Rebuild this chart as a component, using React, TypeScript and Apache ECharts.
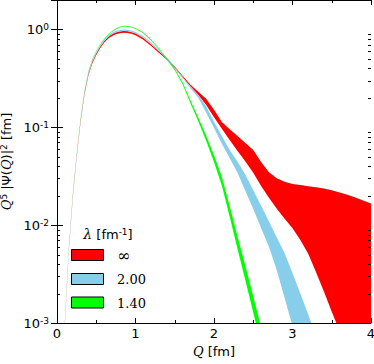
import React, { useEffect, useRef } from "react";
import * as echarts from "echarts";

// Momentum grid Q [fm^-1]
const Q = [0.08, 0.1, 0.15, 0.2, 0.25, 0.3, 0.35, 0.4, 0.45, 0.5, 0.55, 0.6, 0.65, 0.7, 0.75, 0.8, 0.85, 0.9, 0.95, 1.0,
  1.1, 1.2, 1.3, 1.4, 1.5, 1.6, 1.7, 1.8, 1.9, 2.0, 2.1, 2.2, 2.3, 2.4, 2.5, 2.6, 2.7, 2.8, 2.9, 3.0,
  3.1, 3.2, 3.3, 3.4, 3.5, 3.6, 3.7, 3.8, 3.9, 4.0];

// λ = ∞ band
const redLower = [0.000372, 0.00096, 0.00539, 0.01862, 0.049, 0.1127, 0.2156, 0.3381, 0.4508, 0.5488, 0.6419, 0.7301, 0.8036, 0.8575, 0.8918, 0.9163, 0.9261, 0.9212, 0.9016, 0.8722,
  0.784, 0.6762, 0.5733, 0.49, 0.4018, 0.3234, 0.263, 0.214, 0.169, 0.127, 0.0964, 0.0742, 0.0572, 0.0447, 0.0344, 0.0251, 0.0191, 0.0147, 0.0116, 0.00927,
  0.00705, 0.0051, 0.0033, 0.0021, 0.0013, 0.00083, 0.0005, 0.0003, 0.0002, 0.00012];
const redUpper = [0.000388, 0.001, 0.00561, 0.01938, 0.051, 0.1173, 0.2244, 0.3519, 0.4692, 0.5712, 0.6681, 0.7599, 0.8364, 0.8925, 0.9282, 0.9537, 0.9639, 0.9588, 0.9384, 0.9078,
  0.816, 0.7038, 0.5967, 0.51, 0.4182, 0.3366, 0.273, 0.231, 0.196, 0.151, 0.113, 0.0955, 0.0813, 0.0692, 0.0586, 0.0442, 0.0347, 0.0302, 0.0278, 0.0264,
  0.0257, 0.025, 0.0244, 0.0237, 0.0227, 0.0216, 0.0204, 0.0192, 0.0179, 0.0166];

// λ = 2.00 band
const blueLower = [0.000374, 0.000975, 0.00552, 0.01921, 0.05024, 0.1152, 0.2216, 0.3497, 0.4649, 0.5664, 0.6649, 0.7535, 0.8373, 0.8964, 0.9358, 0.9604, 0.9702, 0.9653, 0.9456, 0.9161,
  0.8274, 0.7141, 0.6009, 0.4974, 0.4039, 0.3201, 0.251, 0.2, 0.142, 0.0984, 0.0679, 0.0484, 0.0344, 0.0224, 0.0146, 0.00933, 0.00603, 0.00347, 0.0018, 0.00093,
  0.0005, 0.00028, 0.00016];
const blueUpper = [0.000386, 0.001005, 0.00568, 0.01979, 0.05177, 0.1188, 0.2284, 0.3603, 0.4791, 0.5836, 0.6851, 0.7765, 0.8628, 0.9237, 0.9643, 0.9896, 0.9998, 0.9947, 0.9744, 0.944,
  0.8526, 0.7359, 0.6192, 0.5126, 0.4162, 0.3299, 0.26, 0.214, 0.164, 0.114, 0.0813, 0.0586, 0.0445, 0.0328, 0.0228, 0.0158, 0.0109, 0.0075, 0.00516, 0.00324,
  0.002, 0.00122, 0.00074];

// λ = 1.40 band
const greenLower = [0.000376, 0.00099, 0.00574, 0.0203, 0.05346, 0.1228, 0.2327, 0.3663, 0.4851, 0.594, 0.693, 0.7821, 0.8712, 0.9405, 0.9999, 1.0445, 1.0692, 1.0643, 1.0445, 1.0148,
  0.9158, 0.7673, 0.6287, 0.49, 0.383, 0.275, 0.176, 0.115, 0.0729, 0.0442, 0.0254, 0.01216, 0.00569, 0.00272, 0.00128, 0.0006, 0.00028];
const greenUpper = [0.000384, 0.00101, 0.00586, 0.0207, 0.05454, 0.1252, 0.2374, 0.3737, 0.4949, 0.606, 0.707, 0.7979, 0.8888, 0.9595, 1.0201, 1.0656, 1.0908, 1.0858, 1.0656, 1.0353,
  0.9343, 0.7828, 0.6414, 0.5, 0.397, 0.288, 0.188, 0.126, 0.0827, 0.0519, 0.0313, 0.01567, 0.00767, 0.00385, 0.00187, 0.00091, 0.00044];

const legendLabels = ["\u221E", "2.00", "1.40"];
const yMinorTicks = [0.002, 0.003, 0.004, 0.005, 0.006, 0.007, 0.008, 0.009,
  0.02, 0.03, 0.04, 0.05, 0.06, 0.07, 0.08, 0.09,
  0.2, 0.3, 0.4, 0.5, 0.6, 0.7, 0.8, 0.9];

const RED = "#ff0000";
const BLUE = "#87ceeb";
const GREEN = "#00ff00";
const SANS = "DejaVu Sans";
const SERIF = "DejaVu Serif";

export default function App() {
  const ref = useRef<HTMLDivElement>(null);
  useEffect(() => {
    const chart = echarts.init(ref.current!, null, { renderer: "svg" });

    const band = (name: string, color: string, lower: number[], upper: number[]) => {
      const q = Q.slice(0, lower.length);
      return {
        type: "custom",
        name,
        xAxisIndex: 0,
        yAxisIndex: 0,
        clip: true,
        silent: true,
        data: q.map((x, i) => [x, lower[i], upper[i]]),
        encode: { x: 0, y: [1, 2] },
        itemStyle: { color },
        renderItem: (params: any, api: any) => {
          if (params.dataIndex !== 0) return null;
          const pts: number[][] = [];
          for (let i = 0; i < q.length; i++) pts.push(api.coord([q[i], upper[i]]));
          for (let i = q.length - 1; i >= 0; i--) pts.push(api.coord([q[i], lower[i]]));
          return { type: "polygon", shape: { points: pts }, style: { fill: color, stroke: null } };
        },
      };
    };

    const minorTicks = {
      type: "custom",
      xAxisIndex: 0,
      yAxisIndex: 0,
      silent: true,
      data: yMinorTicks.map((v) => [0, v]),
      encode: { x: 0, y: 1 },
      renderItem: (params: any, api: any) => {
        const cs = params.coordSys;
        const y = Math.round(api.coord([0, api.value(1)])[1]) + 0.5;
        const st = { stroke: "#000", lineWidth: 1 };
        return {
          type: "group",
          children: [
            { type: "line", shape: { x1: cs.x, y1: y, x2: cs.x + 3, y2: y }, style: st },
            { type: "line", shape: { x1: cs.x + cs.width - 3, y1: y, x2: cs.x + cs.width, y2: y }, style: st },
          ],
        };
      },
    };

    const axisLineStyle = { show: true, lineStyle: { color: "#000", width: 1 } };
    const logFormatter = (v: number) => {
      const e = Math.log10(v);
      if (Math.abs(e - Math.round(e)) > 1e-6) return "";
      return `{b|10}{s|${Math.round(e)}}`;
    };

    const xCommon = {
      type: "value",
      min: 0,
      max: 4,
      interval: 1,
      axisLine: axisLineStyle,
      axisTick: { show: true, inside: true, length: 5, lineStyle: { color: "#000" } },
      minorTick: { show: true, splitNumber: 2, length: 3, lineStyle: { color: "#000" } },
      splitLine: { show: false },
      minorSplitLine: { show: false },
    };
    const yCommon = {
      type: "log",
      logBase: 10,
      min: 0.001,
      max: 2,
      axisLine: axisLineStyle,
      axisTick: { show: true, inside: true, length: 6, lineStyle: { color: "#000" } },
      splitLine: { show: false },
    };

    const legendBoxes = [RED, BLUE, GREEN];
    const boxTop = [249.5, 273.5, 297];
    const graphic: any[] = [
      {
        type: "text",
        x: 108,
        y: 234,
        style: {
          text: "{l|\u03BB} [fm{s|-1}]",
          fontFamily: SANS,
          fontSize: 13,
          fill: "#000",
          align: "center",
          verticalAlign: "middle",
          rich: {
            l: { fontFamily: SERIF, fontStyle: "italic", fontSize: 14, fill: "#000" },
            s: { fontFamily: SANS, fontSize: 9, fill: "#000", verticalAlign: "top" },
          },
        },
      },
    ];
    legendBoxes.forEach((c, i) => {
      graphic.push({
        type: "rect",
        shape: { x: 71.5, y: boxTop[i], width: 32, height: 11 },
        style: { fill: c, stroke: "#000", lineWidth: 1 },
      });
      graphic.push({
        type: "text",
        x: 117,
        y: boxTop[i] + 6,
        style: {
          text: legendLabels[i],
          fontFamily: SERIF,
          fontSize: i === 0 ? 16 : 13,
          fill: "#000",
          align: "left",
          verticalAlign: "middle",
        },
      });
    });

    chart.setOption({
      animation: false,
      backgroundColor: "#fff",
      grid: { left: 57, right: 3, top: 0, bottom: 41, containLabel: false, outerBoundsMode: "none" },
      xAxis: [
        {
          ...xCommon,
          position: "bottom",
          name: "{i|Q} [fm]",
          nameLocation: "middle",
          nameGap: 19,
          nameTextStyle: {
            fontFamily: SANS,
            fontSize: 13,
            color: "#000",
            rich: { i: { fontFamily: SERIF, fontStyle: "italic", fontSize: 13, color: "#000" } },
          },
          axisLabel: { fontFamily: SANS, fontSize: 13, color: "#000", margin: 4 },
        },
        { ...xCommon, position: "top", axisLabel: { show: false } },
      ],
      yAxis: [
        {
          ...yCommon,
          position: "left",
          name: "{i|Q}{s|5} |\u03A8({i|Q})|{s|2} [fm]",
          nameLocation: "middle",
          nameRotate: 90,
          nameGap: 37,
          nameTextStyle: {
            fontFamily: SANS,
            fontSize: 13,
            color: "#000",
            rich: {
              i: { fontFamily: SERIF, fontStyle: "italic", fontSize: 13, color: "#000" },
              s: { fontFamily: SANS, fontSize: 9, color: "#000", verticalAlign: "top" },
            },
          },
          axisLabel: {
            formatter: logFormatter,
            showMaxLabel: false,
            margin: 8,
            rich: {
              b: { fontFamily: SANS, fontSize: 13, color: "#000" },
              s: { fontFamily: SANS, fontSize: 9, color: "#000", verticalAlign: "top" },
            },
          },
        },
        { ...yCommon, position: "right", axisLabel: { show: false } },
      ],
      series: [
        band("\u221E", RED, redLower, redUpper),
        band("2.00", BLUE, blueLower, blueUpper),
        band("1.40", GREEN, greenLower, greenUpper),
        minorTicks,
      ],
      graphic,
    });
    return () => chart.dispose();
  }, []);

  return <div ref={ref} style={{ width: 374, height: 364, position: "absolute", left: 0, top: 0 }} />;
}
